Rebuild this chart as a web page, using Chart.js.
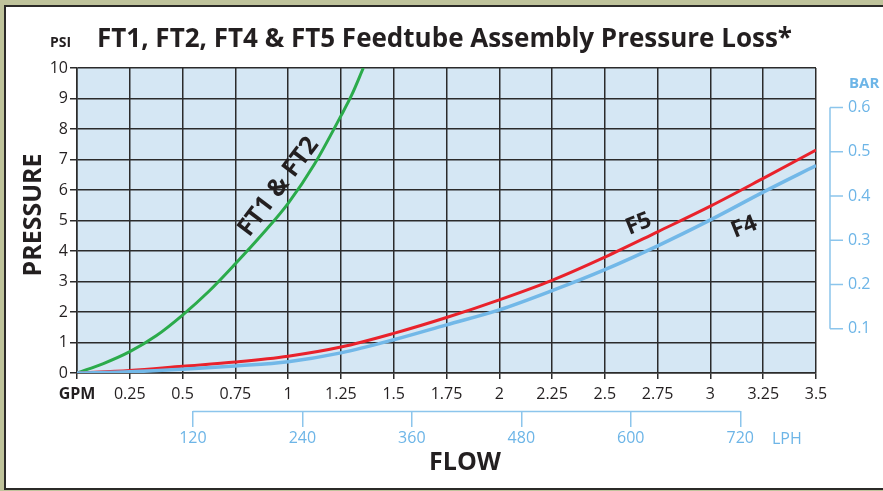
<!DOCTYPE html>
<html>
<head>
<meta charset="utf-8">
<script src="https://cdn.jsdelivr.net/npm/chart.js@4.4.1/dist/chart.umd.min.js"></script>
<style>
  html, body { margin: 0; padding: 0; }
  body { width: 883px; height: 491px; background: #bfc39b; position: relative; overflow: hidden; }
  .frame { position: absolute; left: 4px; top: 5px; right: -10px; bottom: 1px; background: #fff;
           border: 2.5px solid #2b2a28; border-right: none; }
  canvas { position: absolute; left: 0; top: 0; }
</style>
</head>
<body>
<div class="frame"></div>
<canvas id="chart" width="883" height="491" style="width:883px;height:491px"></canvas>
<script>
'use strict';

/* ── DATA ── */
const gpmTicks  = [0, 0.25, 0.5, 0.75, 1, 1.25, 1.5, 1.75, 2, 2.25, 2.5, 2.75, 3, 3.25, 3.5];
const psiTicks  = [0, 1, 2, 3, 4, 5, 6, 7, 8, 9, 10];
const barTicks  = [0.1, 0.2, 0.3, 0.4, 0.5, 0.6];
const lphTicks  = [120, 240, 360, 480, 600, 720];

// FT1 & FT2 (green) — stops where it leaves the top of the grid
const ft12Gpm = [0, 0.125, 0.25, 0.375, 0.5, 0.625, 0.75, 0.875, 1, 1.125, 1.25, 1.3, 1.356];
const ft12Psi = [0, 0.31, 0.7, 1.22, 1.9, 2.68, 3.58, 4.53, 5.56, 6.85, 8.43, 9.1, 10];

// F5 (red) and F4 (blue) read at every 0.25 GPM
const f5Psi = [0, 0.08, 0.22, 0.36, 0.55, 0.85, 1.3, 1.82, 2.4, 3.04, 3.8, 4.63, 5.47, 6.38, 7.31];
const f4Psi = [0, 0.04, 0.12, 0.23, 0.37, 0.66, 1.09, 1.58, 2.07, 2.7, 3.39, 4.17, 5.02, 5.93, 6.8];

const PSI_PER_BAR = 14.5038;

/* ── STYLE ── */
const FONT  = '"Open Sans", "DejaVu Sans", sans-serif';
const INK   = '#231f20';
const GRID  = '#2b2b2b';
const BLUE  = '#6db5e7';
const BLUE_LINE = '#8cc5ec';

const pts = (xs, ys) => xs.map((x, i) => ({ x, y: ys[i] }));

/* ── DECOR PLUGIN ── */
const decor = {
  id: 'decor',
  beforeDraw(chart) {
    const { ctx, chartArea: a } = chart;
    ctx.save();
    ctx.fillStyle = '#d5e7f4';
    ctx.fillRect(a.left, a.top, a.right - a.left, a.bottom - a.top);
    ctx.restore();
  },
  afterDraw(chart) {
    const { ctx, scales } = chart;
    const { x, y, y2, x2 } = scales;
    ctx.save();

    /* titles */
    ctx.fillStyle = INK;
    ctx.textBaseline = 'alphabetic';
    ctx.textAlign = 'left';
    ctx.font = 'bold 26px ' + FONT;
    ctx.fillText('FT1, FT2, FT4 & FT5 Feedtube Assembly Pressure Loss*', 97, 47);
    ctx.font = 'bold 14px ' + FONT;
    ctx.fillText('PSI', 50, 47);

    ctx.textAlign = 'center';
    ctx.textBaseline = 'middle';
    ctx.font = 'bold 25px ' + FONT;
    ctx.fillText('FLOW', 465, 463);

    ctx.save();
    ctx.translate(34, 215);
    ctx.rotate(-Math.PI / 2);
    ctx.fillText('PRESSURE', 0, 0);
    ctx.restore();

    /* curve labels */
    const label = (txt, gx, py, deg, size) => {
      ctx.save();
      ctx.translate(x.getPixelForValue(gx), y.getPixelForValue(py));
      ctx.rotate(deg * Math.PI / 180);
      ctx.font = 'bold ' + size + 'px ' + FONT;
      ctx.fillStyle = INK;
      ctx.fillText(txt, 0, 0);
      ctx.restore();
    };
    label('FT1 & FT2', 0.955, 6.1, -53, 25);
    label('F5', 2.66, 4.88, -22, 23);
    label('F4', 3.16, 4.78, -22, 23);

    /* BAR bracket */
    ctx.strokeStyle = BLUE_LINE;
    ctx.lineWidth = 1.5;
    const bx = 830;
    const yTop = y2.getPixelForValue(barTicks[barTicks.length - 1]);
    const yBot = y2.getPixelForValue(barTicks[0]);
    ctx.beginPath();
    ctx.moveTo(bx, yTop);
    ctx.lineTo(bx, yBot);
    barTicks.forEach(v => {
      const py = y2.getPixelForValue(v);
      ctx.moveTo(bx, py);
      ctx.lineTo(bx + 13, py);
    });
    ctx.stroke();

    ctx.fillStyle = BLUE;
    ctx.font = 'bold 15px ' + FONT;
    ctx.textAlign = 'left';
    ctx.fillText('BAR', 849, 84);

    /* LPH bracket */
    const ly = x2.top + 0.5;
    ctx.beginPath();
    ctx.moveTo(x2.getPixelForValue(lphTicks[0]), ly);
    ctx.lineTo(x2.getPixelForValue(lphTicks[lphTicks.length - 1]), ly);
    ctx.stroke();
    ctx.font = '16px ' + FONT;
    ctx.fillText('LPH', 772, 439);

    ctx.restore();
  },
};

/* ── CHART ── */
new Chart(document.getElementById('chart'), {
  type: 'line',
  data: {
    datasets: [
      {
        label: 'F4',
        data: pts(gpmTicks, f4Psi),
        borderColor: '#72b8e8',
        borderWidth: 3.5,
        pointRadius: 0,
        cubicInterpolationMode: 'monotone',
      },
      {
        label: 'F5',
        data: pts(gpmTicks, f5Psi),
        borderColor: '#e9222b',
        borderWidth: 3,
        pointRadius: 0,
        cubicInterpolationMode: 'monotone',
      },
      {
        label: 'FT1 & FT2',
        data: pts(ft12Gpm, ft12Psi),
        borderColor: '#2bab4b',
        borderWidth: 3,
        pointRadius: 0,
        cubicInterpolationMode: 'monotone',
      },
    ],
  },
  options: {
    responsive: false,
    animation: false,
    layout: { padding: { top: 68, left: 0, right: 0, bottom: 0 } },
    plugins: { legend: { display: false }, tooltip: { enabled: false } },
    scales: {
      x: {
        type: 'linear',
        position: 'bottom',
        min: 0, max: 3.5,
        afterBuildTicks: s => { s.ticks = gpmTicks.map(v => ({ value: v })); },
        afterFit: s => { s.height = 38; },
        grid: { color: GRID, lineWidth: 1.5, tickLength: 6 },
        border: { color: GRID, width: 1.5 },
        ticks: {
          color: INK,
          padding: 6,
          maxRotation: 0,
          autoSkip: false,
          font: ctx => ({ family: FONT, size: 16, weight: ctx.tick && ctx.tick.value === 0 ? 'bold' : 'normal' }),
          callback: v => (v === 0 ? 'GPM' : String(v)),
        },
      },
      x2: {
        type: 'linear',
        position: 'bottom',
        weight: 1,
        min: -7, max: 803,
        afterBuildTicks: s => { s.ticks = lphTicks.map(v => ({ value: v })); },
        afterFit: s => { s.height = 80; },
        grid: { drawOnChartArea: false, color: BLUE_LINE, lineWidth: 1.5, tickLength: 16 },
        border: { display: false },
        ticks: { color: BLUE, padding: 2, maxRotation: 0, autoSkip: false, font: { family: FONT, size: 16 } },
      },
      y: {
        type: 'linear',
        position: 'left',
        min: 0, max: 10,
        afterBuildTicks: s => { s.ticks = psiTicks.map(v => ({ value: v })); },
        afterFit: s => { s.width = 77; },
        grid: { color: GRID, lineWidth: 1.5, tickLength: 7 },
        border: { color: GRID, width: 1.5 },
        ticks: { color: INK, padding: 2, font: { family: FONT, size: 16 } },
      },
      y2: {
        type: 'linear',
        position: 'right',
        min: 0, max: 10 / PSI_PER_BAR,
        afterBuildTicks: s => { s.ticks = barTicks.map(v => ({ value: v })); },
        afterFit: s => { s.width = 67; },
        grid: { drawOnChartArea: false, drawTicks: false },
        border: { display: false },
        ticks: { color: BLUE, padding: 32, font: { family: FONT, size: 16 }, callback: v => v.toFixed(1) },
      },
    },
  },
  plugins: [decor],
});
</script>
</body>
</html>
